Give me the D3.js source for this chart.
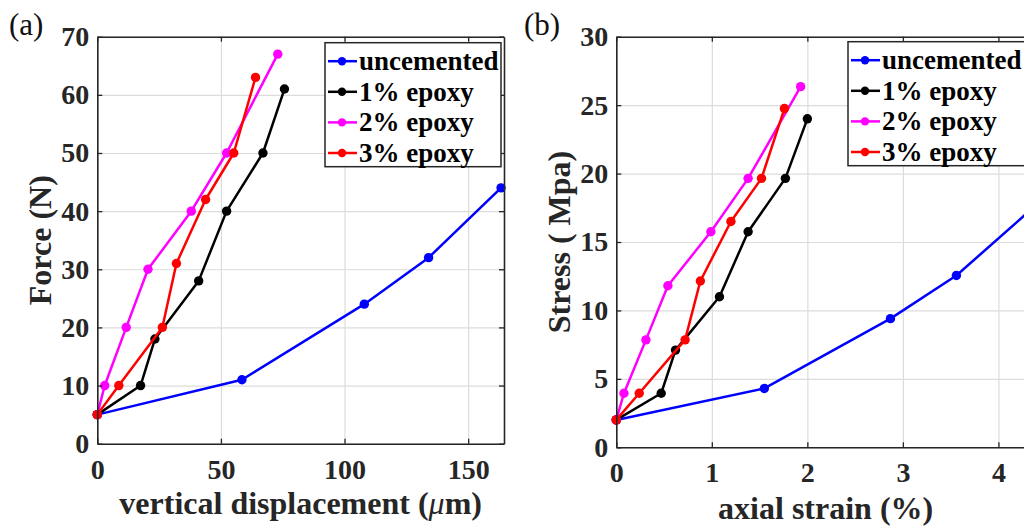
<!DOCTYPE html>
<html>
<head>
<meta charset="utf-8">
<script src="https://cdn.jsdelivr.net/npm/d3@7"></script>
<style>
  html, body { margin: 0; padding: 0; background: #fff; }
  svg { display: block; overflow: hidden; }
  text { font-family: "Liberation Serif", "Times New Roman", serif; }
</style>
</head>
<body>
<script>
// ---------- data ----------
const seriesNames = ["uncemented", "1% epoxy", "2% epoxy", "3% epoxy"];
const seriesColors = ["#0000ff", "#000000", "#ff00ff", "#ff0000"];

// Panel (a): force vs vertical displacement
const dispUncemented = [0, 58.5, 108, 134, 163.3];
const forceUncemented = [5, 11, 24, 32, 44];
const disp1 = [0, 17.5, 23.3, 41, 52.3, 67, 75.7];
const force1 = [5, 10, 18, 28, 40, 50, 61];
const disp2 = [0, 3, 11.7, 20.5, 38, 52.3, 73];
const force2 = [5, 10, 20, 30, 40, 50, 67];
const disp3 = [0, 8.7, 26.3, 32, 43.8, 55.2, 64];
const force3 = [5, 10, 20, 31, 42, 50, 63];

// Panel (b): stress vs axial strain
const strainUncemented = [0, 1.55, 2.87, 3.56, 4.33];
const stressUncemented = [2, 4.3, 9.4, 12.55, 17.3];
const strain1 = [0, 0.47, 0.62, 1.08, 1.38, 1.77, 2.0];
const stress1 = [2, 3.95, 7.1, 11.0, 15.75, 19.65, 24.0];
const strain2 = [0, 0.08, 0.31, 0.54, 0.99, 1.38, 1.93];
const stress2 = [2, 3.95, 7.85, 11.8, 15.75, 19.65, 26.35];
const strain3 = [0, 0.24, 0.72, 0.88, 1.2, 1.52, 1.76];
const stress3 = [2, 3.95, 7.85, 12.15, 16.5, 19.65, 24.75];

// ticks
const xTicksA = [0, 50, 100, 150];
const yTicksA = [0, 10, 20, 30, 40, 50, 60, 70];
const xTicksB = [0, 1, 2, 3, 4];
const yTicksB = [0, 5, 10, 15, 20, 25, 30];

// ---------- drawing ----------
const W = 1024, H = 526;
const svg = d3.select("body").append("svg").attr("width", W).attr("height", H);
const AX = "#262626";

function drawPanel(p) {
  const x = d3.scaleLinear().domain(p.xDomain).range([p.left, p.right]);
  const y = d3.scaleLinear().domain(p.yDomain).range([p.bottom, p.top]);
  const g = svg.append("g");
  const h = p.bottom - p.top, w = p.right - p.left;

  // grid
  g.append("g").attr("transform", `translate(0,${p.bottom})`)
    .call(d3.axisBottom(x).tickValues(p.xTicks).tickSize(-h).tickFormat(""))
    .call(s => { s.select(".domain").remove(); s.selectAll("line").attr("stroke", "#dcdcdc").attr("stroke-width", 1.2); });
  g.append("g").attr("transform", `translate(${p.left},0)`)
    .call(d3.axisLeft(y).tickValues(p.yTicks).tickSize(-w).tickFormat(""))
    .call(s => { s.select(".domain").remove(); s.selectAll("line").attr("stroke", "#dcdcdc").attr("stroke-width", 1.2); });

  // series
  p.series.forEach((s, i) => {
    const pts = d3.zip(s.x, s.y);
    g.append("path").datum(pts)
      .attr("d", d3.line().x(d => x(d[0])).y(d => y(d[1])))
      .attr("fill", "none").attr("stroke", seriesColors[i]).attr("stroke-width", 2.5)
      .attr("stroke-linejoin", "round");
    g.selectAll(null).data(pts).join("circle")
      .attr("cx", d => x(d[0])).attr("cy", d => y(d[1])).attr("r", 4.7)
      .attr("fill", seriesColors[i]);
  });

  // axes (box with inward ticks)
  const styleAxis = s => {
    s.select(".domain").attr("stroke", AX).attr("stroke-width", 1.6);
    s.selectAll(".tick line").attr("stroke", AX).attr("stroke-width", 1.3);
    s.selectAll("text").attr("fill", AX).attr("font-size", 28).attr("font-weight", "bold");
  };
  g.append("g").attr("transform", `translate(0,${p.bottom})`)
    .call(d3.axisBottom(x).tickValues(p.xTicks).tickSize(-5).tickSizeOuter(0).tickPadding(15).tickFormat(d3.format("d")))
    .call(styleAxis);
  g.append("g").attr("transform", `translate(0,${p.top})`)
    .call(d3.axisTop(x).tickValues(p.xTicks).tickSize(-5).tickSizeOuter(0).tickFormat(""))
    .call(styleAxis);
  g.append("g").attr("transform", `translate(${p.left},0)`)
    .call(d3.axisLeft(y).tickValues(p.yTicks).tickSize(-5).tickSizeOuter(0).tickPadding(8).tickFormat(d3.format("d")))
    .call(styleAxis);
  g.append("g").attr("transform", `translate(${p.right},0)`)
    .call(d3.axisRight(y).tickValues(p.yTicks).tickSize(-5).tickSizeOuter(0).tickFormat(""))
    .call(styleAxis);

  // axis labels
  const xl = g.append("text").attr("x", (p.left + p.right) / 2).attr("y", p.xLabelY)
    .attr("text-anchor", "middle").attr("font-size", 32).attr("font-weight", "bold").attr("fill", AX);
  p.xLabel(xl);
  g.append("text").attr("transform", `translate(${p.yLabelX},${(p.top + p.bottom) / 2}) rotate(-90)`)
    .attr("text-anchor", "middle").attr("font-size", 32).attr("font-weight", "bold").attr("fill", AX)
    .text(p.yLabel);

  // panel tag
  g.append("text").attr("x", p.tagX).attr("y", 35).attr("font-size", 31).attr("fill", "#111")
    .text(p.tag);

  // legend
  const lg = g.append("g");
  lg.append("rect").attr("x", p.legX).attr("y", p.legY).attr("width", p.legW).attr("height", 124)
    .attr("fill", "#fff").attr("stroke", AX).attr("stroke-width", 1.5);
  seriesNames.forEach((name, i) => {
    const cy = p.legY + 18.5 + i * 30.6;
    lg.append("line").attr("x1", p.legX + 3).attr("x2", p.legX + 32).attr("y1", cy).attr("y2", cy)
      .attr("stroke", seriesColors[i]).attr("stroke-width", 2.5);
    lg.append("circle").attr("cx", p.legX + 17).attr("cy", cy).attr("r", 4.2).attr("fill", seriesColors[i]);
    lg.append("text").attr("x", p.legX + 34).attr("y", cy + 9).attr("font-size", 27)
      .attr("font-weight", "bold").attr("fill", "#000").text(name);
  });
}

drawPanel({
  left: 97.3, right: 504, top: 36.7, bottom: 443.7,
  xDomain: [0, 164.5], yDomain: [0, 70],
  xTicks: xTicksA, yTicks: yTicksA,
  series: [
    { x: dispUncemented, y: forceUncemented },
    { x: disp1, y: force1 },
    { x: disp2, y: force2 },
    { x: disp3, y: force3 }
  ],
  xLabelY: 514,
  xLabel: t => {
    t.append("tspan").text("vertical displacement (");
    t.append("tspan").attr("font-style", "italic").attr("font-weight", "normal").text("\u03bc");
    t.append("tspan").text("m)");
  },
  yLabelX: 51, yLabel: "Force (N)",
  tag: "(a)", tagX: 9,
  legX: 325, legY: 42.7, legW: 176
});

drawPanel({
  left: 616.3, right: 1035, top: 36.7, bottom: 447.3,
  xDomain: [0, 4.383], yDomain: [0, 30],
  xTicks: xTicksB, yTicks: yTicksB,
  series: [
    { x: strainUncemented, y: stressUncemented },
    { x: strain1, y: stress1 },
    { x: strain2, y: stress2 },
    { x: strain3, y: stress3 }
  ],
  xLabelY: 519,
  xLabel: t => t.text("axial strain (%)"),
  yLabelX: 570, yLabel: "Stress ( Mpa)",
  tag: "(b)", tagX: 524,
  legX: 848, legY: 41.7, legW: 178
});
</script>
</body>
</html>
